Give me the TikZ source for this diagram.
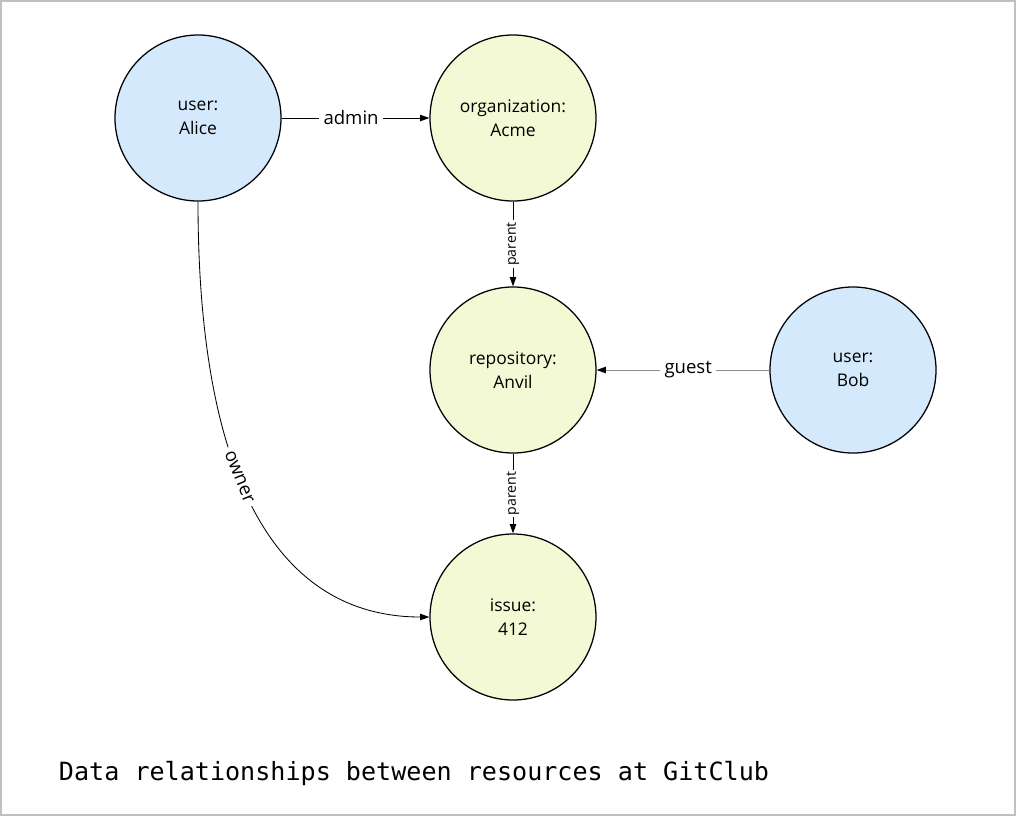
\documentclass[tikz,border=0pt]{standalone}
\usepackage{fontspec}
\setmainfont{Open Sans}
\setmonofont{DejaVu Sans Mono}
\usepackage{xcolor}
\usetikzlibrary{arrows.meta,positioning}
\definecolor{userblue}{RGB}{213,233,252}
\definecolor{resgreen}{RGB}{243,249,213}
\definecolor{framegray}{RGB}{192,192,192}
\tikzset{
  ent/.style={circle, draw=black, line width=0.9pt, fill=#1, minimum size=4.15cm,
              align=center, font=\fontsize{12.4}{17}\selectfont, inner sep=0pt},
  ent/.default={resgreen},
  arr/.style={-{Stealth[length=6.5pt, width=4.5pt, inset=0pt, color=black]}, line width=0.6pt, black},
  rel/.style={fill=white, inner sep=3pt, font=\fontsize{13.2}{15}\selectfont},
  relsmall/.style={fill=white, inner sep=1.5pt, font=\fontsize{10}{11}\selectfont, rotate=90},
}

\begin{document}
\begin{tikzpicture}
% frame
\useasboundingbox (0,0) rectangle (25.4,-20.4);
\draw[framegray, line width=1.4pt] (0.025,-0.025) rectangle (25.375,-20.375);
% entities
\node[ent=userblue] (alice) at (4.95,-2.95) {user:\\Alice};
\node[ent] (acme) at (12.825,-2.95) {organization:\\Acme};
\node[ent] (anvil) at (12.825,-9.25) {repository:\\Anvil};
\node[ent=userblue] (bob) at (21.325,-9.25) {user:\\Bob};
\node[ent] (issue) at (12.825,-15.425) {issue:\\412};
% relations
\draw[arr] (alice) -- node[rel, pos=0.47] {admin} (acme);
\draw[arr] (acme) -- node[relsmall] {parent} (anvil);
\draw[arr, black!45] (bob) -- node[rel, text=black, pos=0.47] {guest} (anvil);
\draw[arr] (anvil) -- node[relsmall] {parent} (issue);
\draw[arr] (alice.south) .. controls +(0,-7.475) and +(-3.5,0) .. node[rel, pos=0.4, sloped] {owner} (issue.west);
% caption
\node[anchor=base west, font=\fontsize{17.85}{21}\ttfamily] (caption) at (1.35,-19.5)
  {Data relationships between resources at GitClub};
\end{tikzpicture}
\end{document}
